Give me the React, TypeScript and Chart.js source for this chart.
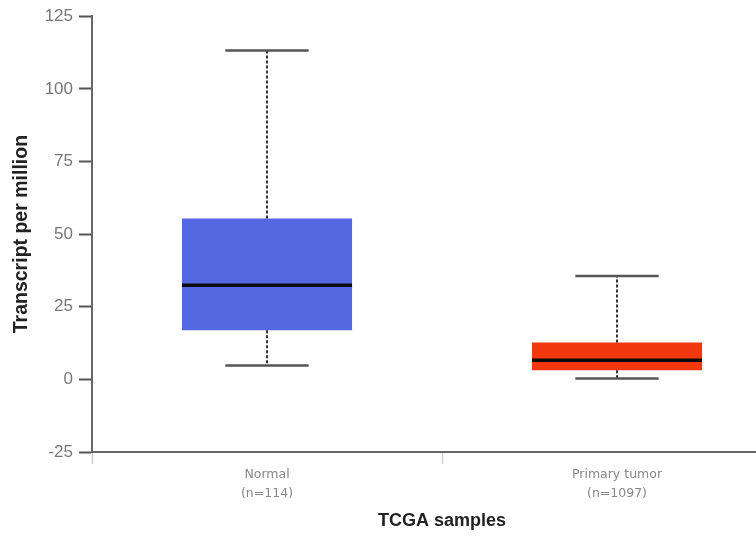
import React, { useEffect, useRef } from "react";
import { Chart, registerables } from "chart.js";

Chart.register(...registerables);

const categories: string[][] = [["Normal", "(n=114)"], ["Primary tumor", "(n=1097)"]];
const q1Values = [16.9, 3.1];
const q3Values = [55.4, 12.7];
const medianValues = [32.4, 6.6];
const minValues = [4.8, 0.3];
const maxValues = [113.2, 35.6];
const boxColors = ["#5367e0", "#f0380c"];
const yTicks = [-25, 0, 25, 50, 75, 100, 125];

const boxPlugin = {
  id: "boxWhiskers",
  afterDatasetsDraw(chart: any) {
    const ctx = chart.ctx;
    const y = chart.scales.y;
    const meta = chart.getDatasetMeta(0);
    meta.data.forEach((bar: any, i: number) => {
      const x = bar.x;
      const w = bar.width;
      const yMax = y.getPixelForValue(maxValues[i]);
      const yMin = y.getPixelForValue(minValues[i]);
      const yQ1 = y.getPixelForValue(q1Values[i]);
      const yQ3 = y.getPixelForValue(q3Values[i]);
      const yMed = y.getPixelForValue(medianValues[i]);
      ctx.save();
      ctx.strokeStyle = "#333";
      ctx.lineWidth = 2;
      ctx.setLineDash([3, 2]);
      ctx.beginPath();
      ctx.moveTo(x, yQ3);
      ctx.lineTo(x, yMax);
      ctx.moveTo(x, yQ1);
      ctx.lineTo(x, yMin);
      ctx.stroke();
      ctx.setLineDash([]);
      ctx.strokeStyle = "#555";
      ctx.lineWidth = 2.5;
      const cw = w * 0.245;
      ctx.beginPath();
      ctx.moveTo(x - cw, yMax);
      ctx.lineTo(x + cw, yMax);
      ctx.moveTo(x - cw, yMin);
      ctx.lineTo(x + cw, yMin);
      ctx.stroke();
      ctx.strokeStyle = "#0a0a0a";
      ctx.lineWidth = 3.5;
      ctx.beginPath();
      ctx.moveTo(x - w / 2, yMed);
      ctx.lineTo(x + w / 2, yMed);
      ctx.stroke();
      ctx.restore();
    });
  },
};

export default function App() {
  const ref = useRef<HTMLCanvasElement | null>(null);
  useEffect(() => {
    if (!ref.current) return;
    const chart = new Chart(ref.current, {
      type: "bar",
      data: {
        labels: categories,
        datasets: [
          {
            data: q1Values.map((v, i) => [v, q3Values[i]]) as any,
            backgroundColor: boxColors,
            borderWidth: 0,
            barPercentage: 0.486,
            categoryPercentage: 1,
          },
        ],
      },
      options: {
        animation: false,
        responsive: false,
        devicePixelRatio: 1,
        layout: { padding: { top: 16, right: 38, left: 0, bottom: 0 } },
        plugins: { legend: { display: false }, tooltip: { enabled: false } },
        scales: {
          x: {
            afterFit: (s: any) => {
              s.height = 85;
            },
            grid: {
              offset: true,
              drawOnChartArea: false,
              drawTicks: true,
              tickLength: 12,
              tickColor: "#d0d0d0",
              tickWidth: 1.5,
            },
            border: { color: "#666", width: 2 },
            ticks: {
              color: "#888",
              padding: 1,
              font: { family: "'DejaVu Sans'", size: 12.5, lineHeight: 1.55 },
            },
            title: {
              display: true,
              text: "TCGA samples",
              color: "#222",
              font: { family: "'Liberation Sans', Arial", size: 18, weight: "bold" },
              padding: { top: 0, bottom: 5 },
            },
          },
          y: {
            min: -25,
            max: 125,
            afterFit: (s: any) => {
              s.width = 92;
            },
            afterBuildTicks: (s: any) => {
              s.ticks = yTicks.map((v) => ({ value: v }));
            },
            grid: {
              drawOnChartArea: false,
              drawTicks: true,
              tickLength: 13,
              tickColor: "#555",
              tickWidth: 2,
            },
            border: { color: "#666", width: 2 },
            ticks: {
              color: "#777",
              padding: 6,
              font: { family: "'Liberation Sans', Arial", size: 17 },
            },
            title: {
              display: true,
              text: "Transcript per million",
              color: "#222",
              font: { family: "'Liberation Sans', Arial", size: 19.5, weight: "bold" },
              padding: { top: 10, bottom: 0 },
            },
          },
        },
      },
      plugins: [boxPlugin],
    });
    return () => chart.destroy();
  }, []);
  return (
    <div
      style={{
        position: "fixed",
        left: 0,
        top: 0,
        width: 756,
        height: 537,
        overflow: "hidden",
        background: "#fff",
      }}
    >
      <canvas ref={ref} width={830} height={537} style={{ display: "block" }} />
    </div>
  );
}
